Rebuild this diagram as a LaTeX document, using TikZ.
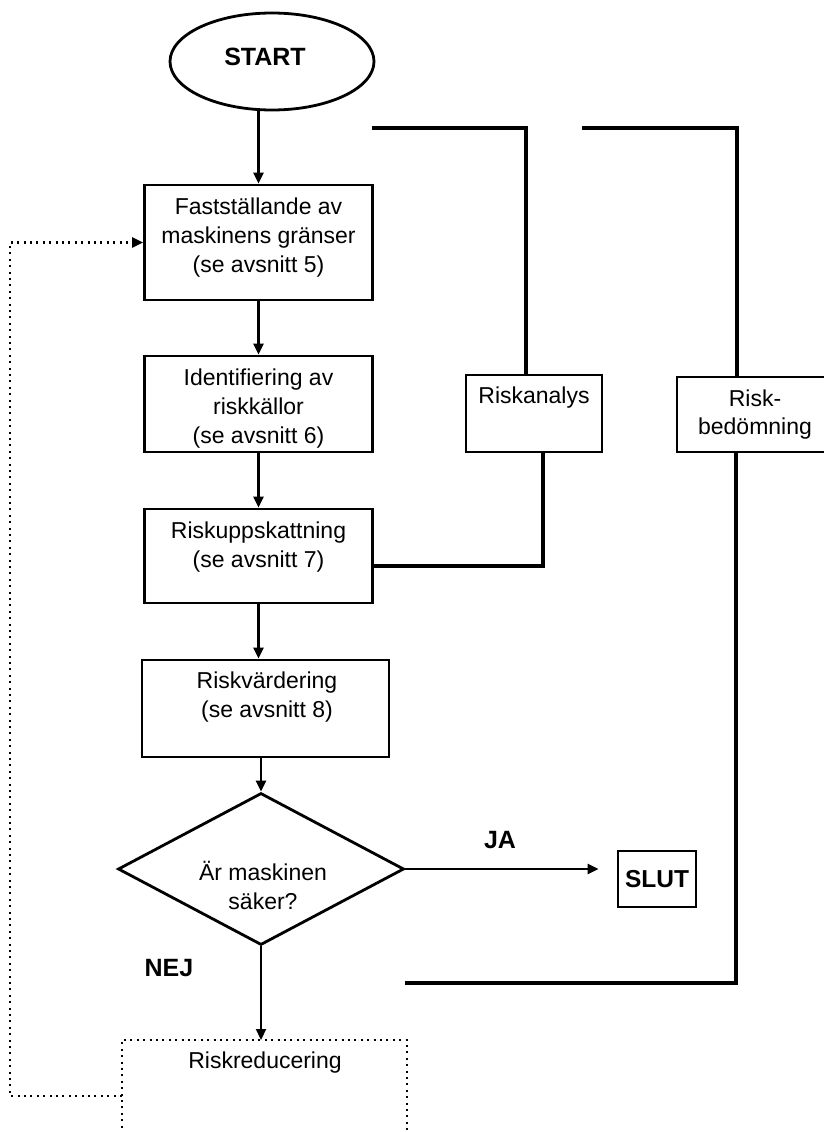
\documentclass[tikz,border=0pt]{standalone}
\usepackage{fontspec}
\setmainfont{Liberation Sans}
\usetikzlibrary{shapes.geometric,arrows.meta}
\begin{document}
\begin{tikzpicture}[x=1pt,y=-1pt,
 box/.style={draw, line width=2.8pt, rectangle, inner sep=0pt},
 txt/.style={align=center, font=\fontsize{23}{29}\selectfont, inner sep=0pt},
 btxt/.style={font=\fontsize{25}{30}\selectfont\bfseries, inner sep=0pt},
 tip/.style={-{Triangle[length=11pt,width=10pt]}},
 conn/.style={line width=2.2pt, tip},
 brk/.style={line width=3.2pt},
 dots/.style={line width=2.2pt, dash pattern=on 2pt off 4.4pt},
]
\useasboundingbox (0,0) rectangle (824,1132);

% main column
\node[ellipse, draw, line width=2.8pt, minimum width=204pt, minimum height=97pt, inner sep=0pt] (start) at (272,61.5) {};
\node[btxt] (starttxt) at (265,57) {START};

\node[box, minimum width=228pt, minimum height=115pt] (b1) at (258.5,242.5) {};
\node[txt] (t1) at (258.5,238) {Fastställande av\\maskinens gränser\\(se avsnitt 5)};

\node[box, minimum width=228pt, minimum height=96pt] (b2) at (258.5,404) {};
\node[txt] (t2) at (258.5,408.5) {Identifiering av\\riskkällor\\(se avsnitt 6)};

\node[box, minimum width=228pt, minimum height=94pt] (b3) at (258.5,556) {};
\node[txt] (t3) at (258.5,547.5) {Riskuppskattning\\(se avsnitt 7)};

\node[box, minimum width=247pt, minimum height=97pt] (b4) at (265.5,708.5) {};
\node[txt] (t4) at (267,697.5) {Riskvärdering\\(se avsnitt 8)};

\node[diamond, draw, line width=2.8pt, minimum width=286pt, minimum height=152pt, inner sep=0pt] (d) at (261,869) {};
\node[txt] (td) at (263,885.5) {Är maskinen\\säker?};

\node[box, minimum width=78pt, minimum height=56pt, font=\fontsize{24.5}{30}\selectfont\bfseries] (slut) at (657,879) {SLUT};
\node[btxt] (ja) at (500,840) {JA};
\node[btxt] (nej) at (169,968) {NEJ};

% Riskreducering (open dotted box)
\coordinate (rrt) at (261,1040);
\coordinate (rrl) at (122,1040);
\coordinate (rrr) at (407,1040);
\coordinate (rrlb) at (122,1134);
\coordinate (rrrb) at (407,1134);
\draw[dots] (rrlb) -- (rrl) -- (rrr) -- (rrrb);
\node[txt] (rrtxt) at (265,1063) {Riskreducering};

% side boxes
\node[box, minimum width=136pt, minimum height=77pt] (ra) at (534,413.5) {};
\node[txt] (ratxt) at (534,398) {Riskanalys};
\node[box, minimum width=156pt, minimum height=75pt, align=center, font=\fontsize{23}{28}\selectfont] (rb) at (755,414.5) {Risk-\\bedömning};

% connectors
\draw[conn] (start.south -| b1.north) -- (b1.north);
\draw[conn] (b1.south) -- (b2.north);
\draw[conn] (b2.south) -- (b3.north);
\draw[conn] (b3.south) -- (b3.south |- b4.north);
\draw[conn] (b4.south -| d.north) -- (d.north);
\draw[conn] (d.east) -- ([xshift=-18pt]slut.west |- d.east);
\draw[conn] (d.south) -- (rrt);

% feedback (dotted)
\coordinate (fb) at (122,1096);
\coordinate (fbc) at (10,1096);
\draw[dots, tip] (fb) -- (fbc) |- (b1.west);

% brackets
\coordinate (ra0) at (372,128);
\draw[brk] (ra0) -| ([xshift=-8pt]ra.north);
\draw[brk] ([xshift=9pt]ra.south) |- ([yshift=-10pt]b3.east);
\coordinate (rb0) at (582,128);
\draw[brk] (rb0) -| ([xshift=-18pt]rb.north);
\coordinate (rb1) at (405,983);
\draw[brk] ([xshift=-19pt]rb.south) |- (rb1);
\end{tikzpicture}
\end{document}
